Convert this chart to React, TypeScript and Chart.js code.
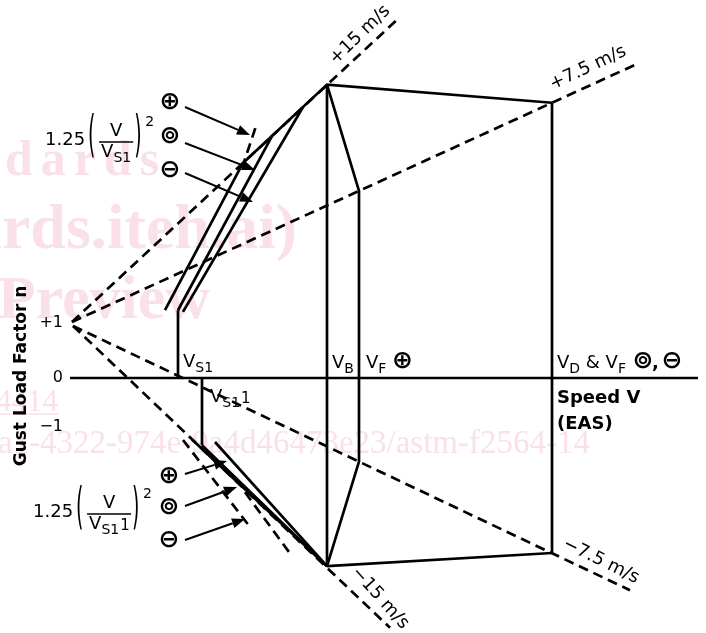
import React, { useEffect, useRef } from "react";
import { Chart, registerables } from "chart.js";

Chart.register(...registerables);

type Pt = [number, number];

// ---------- data: speed V (EAS, measured from the gust-line origin) vs gust load factor n ----------
const gustPlus15: Pt[] = [[0, 1], [328, 6.446]];
const gustPlus75: Pt[] = [[0, 1], [564, 5.6]];
const gustMinus75: Pt[] = [[1, 0.93], [558, -3.79]];
const gustMinus15: Pt[] = [[1, 0.93], [318, -4.46]];

const speedAxis: Pt[] = [[-2, 0], [626, 0]];
const vs1Line: Pt[] = [[106, 0], [106, 1.21]];
const stallPlusA: Pt[] = [[93, 1.21], [171, 3.84]];
const stallPlusB: Pt[] = [[106, 1.21], [200, 4.32]];
const stallPlusC: Pt[] = [[111, 1.18], [231, 4.84]];
const stallPlusExt: Pt[] = [[170, 3.75], [185, 4.55]];
const envelopeTop: Pt[] = [[171, 3.84], [255, 5.24], [480, 4.915]];
const vbLine: Pt[] = [[255, 5.24], [255, -3.36]];
const vfPlusLine: Pt[] = [[255, 5.24], [287, 3.341], [287, -1.493], [255, -3.36]];
const vdLine: Pt[] = [[480, 4.915], [480, -3.125]];
const envelopeBottom: Pt[] = [[255, -3.36], [480, -3.125]];
const vs1NegLine: Pt[] = [[130, 0], [130, -1.2]];
const stallNegA: Pt[] = [[120, -1.1], [255, -3.36]];
const stallNegB: Pt[] = [[130, -1.2], [255, -3.36]];
const stallNegC: Pt[] = [[143, -1.143], [255, -3.36]];
const stallNegExtA: Pt[] = [[111, -1.107], [178, -2.66]];
const stallNegExtB: Pt[] = [[173, -2.04], [220, -3.18]];

const solidLines: Pt[][] = [
  speedAxis, vs1Line, stallPlusA, stallPlusB, stallPlusC, envelopeTop, vbLine,
  vfPlusLine, vdLine, envelopeBottom, vs1NegLine, stallNegA, stallNegB, stallNegC,
];
const dashedLines: Pt[][] = [
  gustPlus15, gustPlus75, gustMinus75, gustMinus15, stallPlusExt, stallNegExtA, stallNegExtB,
];

// load-factor tick labels and their anchor n
const tickLabels = ["+1", "0", "\u22121"];
const tickAnchorN = [0.982, 0, -0.875];

// gust labels: text, anchor v, anchor n, angle (deg)
const gustLabels = ["+15 m/s", "+7.5 m/s", "\u22127.5 m/s", "\u221215 m/s"];
const gustLabelV = [288, 516, 529, 308];
const gustLabelN = [6.125, 5.536, -3.268, -3.929];
const gustLabelAngle = [-44, -25, 26, 48];

// pointer arrows (from v,n to v,n)
const arrowsUpper: [number, number, number, number][] = [
  [113, 4.84, 178, 4.339], [113, 4.196, 183, 3.714], [113, 3.661, 181, 3.143],
];
const arrowsLower: [number, number, number, number][] = [
  [113, -1.714, 155, -1.482], [113, -2.286, 165, -1.946], [113, -2.893, 173, -2.518],
];
const symbols = ["\u2295", "\u229A", "\u2296"];
const symbolUpperN = [4.911, 4.304, 3.714];
const symbolLowerN = [-1.75, -2.321, -2.893];

const F = '"DejaVu Sans", Verdana, sans-serif';
const WM = '"Liberation Serif", "Times New Roman", serif';

function subLabel(ctx: CanvasRenderingContext2D, x: number, y: number, main: string, sub: string, size = 18) {
  ctx.textAlign = "left";
  ctx.textBaseline = "alphabetic";
  ctx.font = `${size}px ${F}`;
  ctx.fillText(main, x, y);
  const w = ctx.measureText(main).width;
  ctx.font = `${Math.round(size * 0.78)}px ${F}`;
  ctx.fillText(sub, x + w, y + 5);
  return x + w + ctx.measureText(sub).width;
}

function symbol(ctx: CanvasRenderingContext2D, ch: string, cx: number, cy: number) {
  ctx.font = `bold 25px ${F}`;
  ctx.textAlign = "center";
  ctx.textBaseline = "middle";
  ctx.fillText(ch, cx, cy);
}

function paren(ctx: CanvasRenderingContext2D, ch: string, x: number, cy: number) {
  ctx.save();
  ctx.translate(x, cy);
  ctx.scale(1, 2.6);
  ctx.font = `19px ${F}`;
  ctx.textAlign = "left";
  ctx.textBaseline = "middle";
  ctx.fillText(ch, 0, 0);
  ctx.restore();
}

function formula(ctx: CanvasRenderingContext2D, x0: number, y0: number, extra: string) {
  ctx.textAlign = "left";
  ctx.textBaseline = "alphabetic";
  ctx.font = `18px ${F}`;
  ctx.fillText("1.25", x0, y0);
  let x = x0 + ctx.measureText("1.25").width + 3;
  paren(ctx, "(", x, y0 - 7);
  x += 11;
  ctx.font = `18px ${F}`;
  const wV = ctx.measureText("V").width;
  ctx.font = `14px ${F}`;
  const wS = ctx.measureText("S1").width;
  const wE = extra ? ctx.measureText(extra).width + 1 : 0;
  const fw = wV + wS + wE + 4;
  ctx.beginPath();
  ctx.lineWidth = 1.3;
  ctx.moveTo(x, y0 - 3);
  ctx.lineTo(x + fw, y0 - 3);
  ctx.stroke();
  ctx.font = `18px ${F}`;
  ctx.textAlign = "center";
  ctx.fillText("V", x + fw / 2, y0 - 9);
  ctx.textAlign = "left";
  const ex = subLabel(ctx, x + 2, y0 + 12, "V", "S1", 18);
  if (extra) {
    ctx.font = `15px ${F}`;
    ctx.fillText(extra, ex + 1, y0 + 13);
  }
  paren(ctx, ")", x + fw + 1, y0 - 7);
  ctx.font = `14px ${F}`;
  ctx.fillText("2", x + fw + 12, y0 - 19);
}

function arrow(ctx: CanvasRenderingContext2D, x1: number, y1: number, x2: number, y2: number) {
  const a = Math.atan2(y2 - y1, x2 - x1);
  const L = 13, H = 5;
  const bx = x2 - L * Math.cos(a), by = y2 - L * Math.sin(a);
  ctx.beginPath();
  ctx.lineWidth = 2;
  ctx.moveTo(x1, y1);
  ctx.lineTo(bx, by);
  ctx.stroke();
  ctx.beginPath();
  ctx.moveTo(x2, y2);
  ctx.lineTo(bx + H * Math.sin(a), by - H * Math.cos(a));
  ctx.lineTo(bx - H * Math.sin(a), by + H * Math.cos(a));
  ctx.closePath();
  ctx.fill();
}

const diagramPlugin = {
  id: "gustDiagram",
  beforeDatasetsDraw(chart: any) {
    const ctx: CanvasRenderingContext2D = chart.ctx;
    const X = (v: number) => chart.scales.x.getPixelForValue(v);
    const Y = (n: number) => chart.scales.y.getPixelForValue(n);
    ctx.save();
    ctx.fillStyle = "#fae1e7";
    ctx.strokeStyle = "#fae1e7";
    ctx.textBaseline = "alphabetic";
    // watermark
    ctx.font = `bold 50px ${WM}`;
    (ctx as any).letterSpacing = "8px";
    ctx.textAlign = "left";
    const wStan = ctx.measureText("Stan").width;
    ctx.fillText("Standards", X(-67) - wStan, Y(3.625));
    (ctx as any).letterSpacing = "0px";
    ctx.textAlign = "right";
    ctx.font = `bold 64px ${WM}`;
    ctx.fillText("(https://standards.iteh.ai)", X(225), Y(2.321));
    ctx.font = `bold 62px ${WM}`;
    ctx.fillText("Document Preview", X(138), Y(1.071));
    ctx.font = `31px ${WM}`;
    ctx.fillText("4414", X(-14), Y(-0.589));
    ctx.beginPath();
    ctx.lineWidth = 1.5;
    ctx.moveTo(X(-72), Y(-0.645));
    ctx.lineTo(X(-14), Y(-0.645));
    ctx.stroke();
    ctx.font = `33px ${WM}`;
    ctx.fillText("ards/sist/6c1a7e5d-0da1-4322-974e-9a4d46473e23/astm-f2564-14", X(518), Y(-1.339));
    ctx.restore();
  },
  afterDatasetsDraw(chart: any) {
    const ctx: CanvasRenderingContext2D = chart.ctx;
    const X = (v: number) => chart.scales.x.getPixelForValue(v);
    const Y = (n: number) => chart.scales.y.getPixelForValue(n);
    ctx.save();
    ctx.fillStyle = "#000";
    ctx.strokeStyle = "#000";

    // y tick labels
    ctx.font = `16px ${F}`;
    ctx.textAlign = "right";
    ctx.textBaseline = "middle";
    tickLabels.forEach((t, i) => ctx.fillText(t, X(-9), Y(tickAnchorN[i])));

    // y axis title
    ctx.save();
    ctx.translate(X(-50), Y(0.036));
    ctx.rotate(-Math.PI / 2);
    ctx.font = `bold 17px ${F}`;
    ctx.textAlign = "center";
    ctx.textBaseline = "middle";
    ctx.fillText("Gust Load Factor n", 0, 0);
    ctx.restore();

    // speed labels
    subLabel(ctx, X(111), Y(0.196), "V", "S1");
    const e1 = subLabel(ctx, X(138), Y(-0.429), "V", "S1");
    ctx.font = `15px ${F}`;
    ctx.fillText("1", e1 + 1, Y(-0.429) + 1);
    subLabel(ctx, X(260), Y(0.179), "V", "B");
    const eF = subLabel(ctx, X(294), Y(0.179), "V", "F");
    symbol(ctx, symbols[0], eF + 16, Y(0.179) - 6);
    let e = subLabel(ctx, X(485), Y(0.179), "V", "D");
    ctx.font = `18px ${F}`;
    ctx.fillText(" & ", e, Y(0.179));
    e += ctx.measureText(" & ").width;
    e = subLabel(ctx, e, Y(0.179), "V", "F");
    symbol(ctx, symbols[1], e + 17, Y(0.179) - 6);
    ctx.font = `bold 18px ${F}`;
    ctx.textAlign = "left";
    ctx.textBaseline = "alphabetic";
    ctx.fillText(",", e + 26, Y(0.179));
    symbol(ctx, symbols[2], e + 46, Y(0.179) - 6);

    ctx.font = `bold 18px ${F}`;
    ctx.textAlign = "left";
    ctx.textBaseline = "alphabetic";
    ctx.fillText("Speed V", X(485), Y(-0.446));
    ctx.fillText("(EAS)", X(485), Y(-0.911));

    // gust labels
    gustLabels.forEach((t, i) => {
      ctx.save();
      ctx.translate(X(gustLabelV[i]), Y(gustLabelN[i]));
      ctx.rotate((gustLabelAngle[i] * Math.PI) / 180);
      ctx.font = `18px ${F}`;
      ctx.textAlign = "center";
      ctx.textBaseline = "middle";
      ctx.fillText(t, 0, 0);
      ctx.restore();
    });

    // formulas
    formula(ctx, X(-27), Y(4.161), "");
    formula(ctx, X(-39), Y(-2.482), "1");

    // symbols + arrows
    symbols.forEach((s, i) => {
      symbol(ctx, s, X(98), Y(symbolUpperN[i]));
      symbol(ctx, s, X(97), Y(symbolLowerN[i]));
    });
    [...arrowsUpper, ...arrowsLower].forEach(([v1, n1, v2, n2]) => arrow(ctx, X(v1), Y(n1), X(v2), Y(n2)));
    ctx.restore();
  },
};

export default function App() {
  const ref = useRef<HTMLCanvasElement | null>(null);
  useEffect(() => {
    if (!ref.current) return;
    const mk = (pts: Pt[], dashed: boolean) => ({
      data: pts.map(([x, y]) => ({ x, y })),
      showLine: true,
      borderColor: "#000",
      borderWidth: 2.7,
      borderDash: dashed ? [10, 6] : [],
      pointRadius: 0,
      fill: false,
      tension: 0,
      borderCapStyle: "butt" as const,
    });
    const chart = new Chart(ref.current, {
      type: "scatter",
      data: {
        datasets: [
          ...dashedLines.map((p) => mk(p, true)),
          ...solidLines.map((p) => mk(p, false)),
        ],
      },
      options: {
        animation: false,
        responsive: false,
        devicePixelRatio: 1,
        layout: { padding: 0 },
        plugins: { legend: { display: false }, tooltip: { enabled: false } },
        events: [],
        scales: {
          x: { type: "linear", min: -72, max: 634, display: false },
          y: { type: "linear", min: -255 / 56, max: 378 / 56, display: false },
        },
      },
      plugins: [diagramPlugin],
    });
    return () => chart.destroy();
  }, []);
  return (
    <div style={{ position: "fixed", left: 0, top: 0, width: 706, height: 633, background: "#fff" }}>
      <canvas ref={ref} width={706} height={633} style={{ width: 706, height: 633 }} />
    </div>
  );
}
